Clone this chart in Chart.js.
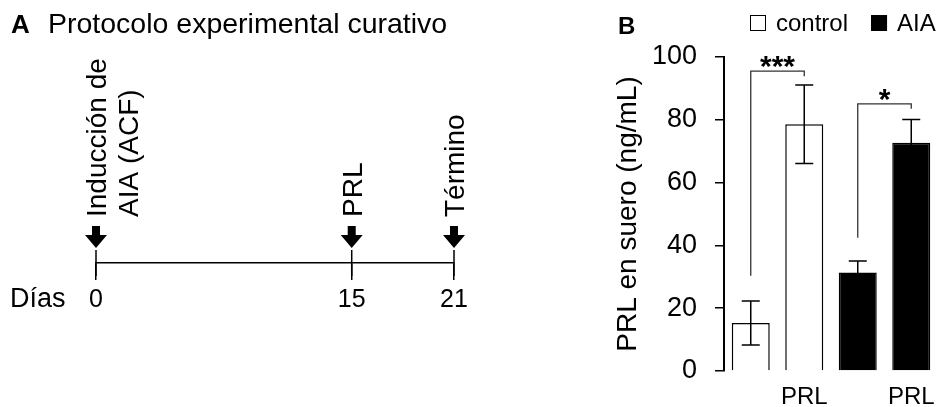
<!DOCTYPE html>
<html>
<head>
<meta charset="utf-8">
<script src="https://cdn.jsdelivr.net/npm/chart.js@4.4.1/dist/chart.umd.min.js"></script>
<style>
  html, body { margin: 0; padding: 0; background: #fff; }
  #wrap { position: relative; width: 938px; height: 407px; overflow: hidden; }
  canvas { position: absolute; top: 0; }
  #timeline { left: 0; }
  #prl { left: 600px; }
</style>
</head>
<body>
<div id="wrap">
  <canvas id="timeline" width="600" height="407"></canvas>
  <canvas id="prl" width="338" height="407"></canvas>
</div>
<script>
const FONT = "'Liberation Sans', Arial, Helvetica, sans-serif";

// panel A: timeline of the curative protocol
const days = [0, 15, 21];
const events = [["Inducción de", "AIA (ACF)"], ["PRL"], ["Término"]];
const dayLabel = "Días";
const titleA = "Protocolo experimental curativo";

// panel B: serum PRL (mean +/- error)
const groups = ["", "PRL", "", "PRL"];
const controlMean = [15.3, 78.6, null, null];
const controlErr = [7.0, 12.5, null, null];
const aiaMean = [null, null, 31.4, 72.7];
const aiaErr = [null, null, 3.6, 7.4];
const sigPairs = [[0, 1], [2, 3]];
const sigMarks = ["***", "*"];
const sigTop = [95.5, 85.1];
const sigFrom = [30.3, 42.4];

const timelineDecor = {
  id: "timelineDecor",
  afterDraw(chart) {
    const { ctx, scales: { x } } = chart;
    const base = x.top;
    ctx.save();
    ctx.fillStyle = "#000";
    days.forEach((d, i) => {
      const px = x.getPixelForValue(d);
      // arrow pointing down to the day
      ctx.fillRect(px - 4, base - 37, 8, 10);
      ctx.beginPath();
      ctx.moveTo(px - 11, base - 28);
      ctx.lineTo(px + 11, base - 28);
      ctx.lineTo(px, base - 15);
      ctx.closePath();
      ctx.fill();
      // vertical label
      ctx.save();
      ctx.translate(px, base - 46);
      ctx.rotate(-Math.PI / 2);
      ctx.font = "28px " + FONT;
      ctx.textAlign = "left";
      ctx.textBaseline = "alphabetic";
      events[i].forEach((line, j) => ctx.fillText(line, 0, 10 + j * 32));
      ctx.restore();
    });
    ctx.font = "27px " + FONT;
    ctx.textBaseline = "middle";
    ctx.fillText(dayLabel, 10, base + 37);
    ctx.textBaseline = "alphabetic";
    ctx.font = "bold 26px " + FONT;
    ctx.fillText("A", 11, 33);
    ctx.font = "28.5px " + FONT;
    ctx.fillText(titleA, 48, 33);
    ctx.restore();
  }
};

new Chart(document.getElementById("timeline"), {
  type: "scatter",
  data: {
    datasets: [{
      data: days.map(d => ({ x: d, y: 0 })),
      pointStyle: "line",
      rotation: 90,
      pointRadius: 13,
      pointHoverRadius: 13,
      pointBorderColor: "#000",
      pointBorderWidth: 1.5,
      clip: false
    }]
  },
  options: {
    responsive: false,
    animation: false,
    events: [],
    layout: { padding: { left: 96, right: 146, top: 60, bottom: 0 } },
    plugins: { legend: { display: false }, tooltip: { enabled: false } },
    scales: {
      x: {
        type: "linear",
        min: 0,
        max: 21,
        afterBuildTicks: s => { s.ticks = days.map(v => ({ value: v })); },
        afterFit: s => { s.height = 144; },
        grid: { drawOnChartArea: false, tickLength: 17, color: "#000", lineWidth: 1.5 },
        border: { color: "#000", width: 1.5 },
        ticks: { color: "#000", font: { family: FONT, size: 25 }, padding: 5, maxRotation: 0 }
      },
      y: { display: false, min: 0, max: 1 }
    }
  },
  plugins: [timelineDecor]
});

const prlDecor = {
  id: "prlDecor",
  afterDatasetsDraw(chart) {
    const { ctx, scales: { y } } = chart;
    const means = [controlMean, aiaMean];
    const errs = [controlErr, aiaErr];
    const barX = [];
    ctx.save();
    ctx.strokeStyle = "#000";
    ctx.lineWidth = 1.5;
    chart.data.datasets.forEach((ds, i) => {
      chart.getDatasetMeta(i).data.forEach((bar, k) => {
        if (means[i][k] == null) return;
        barX[k] = bar.x;
        const top = y.getPixelForValue(means[i][k] + errs[i][k]);
        const bot = y.getPixelForValue(means[i][k] - errs[i][k]);
        ctx.beginPath();
        ctx.moveTo(bar.x, top); ctx.lineTo(bar.x, bot);
        ctx.moveTo(bar.x - 9, top); ctx.lineTo(bar.x + 9, top);
        ctx.moveTo(bar.x - 9, bot); ctx.lineTo(bar.x + 9, bot);
        ctx.stroke();
      });
    });
    // significance brackets
    ctx.strokeStyle = "#333";
    ctx.lineWidth = 1.3;
    ctx.fillStyle = "#000";
    ctx.font = "bold 30px " + FONT;
    ctx.textAlign = "center";
    ctx.textBaseline = "alphabetic";
    sigPairs.forEach(([a, b], i) => {
      const xl = barX[a], xr = barX[b];
      const yt = y.getPixelForValue(sigTop[i]);
      ctx.beginPath();
      ctx.moveTo(xl, y.getPixelForValue(sigFrom[i]));
      ctx.lineTo(xl, yt);
      ctx.lineTo(xr, yt);
      ctx.lineTo(xr, yt + 5);
      ctx.stroke();
      const m = ctx.measureText(sigMarks[i]);
      ctx.fillText(sigMarks[i], (xl + xr) / 2, yt - 3 - m.actualBoundingBoxDescent);
    });
    ctx.restore();
  },
  afterDraw(chart) {
    const { ctx } = chart;
    ctx.save();
    ctx.fillStyle = "#000";
    ctx.textBaseline = "alphabetic";
    ctx.font = "bold 24px " + FONT;
    ctx.fillText("B", 18, 34);
    // legend
    ctx.font = "24px " + FONT;
    let lx = 150;
    chart.data.datasets.forEach(ds => {
      ctx.fillStyle = ds.backgroundColor;
      ctx.fillRect(lx, 15, 16, 16);
      ctx.strokeStyle = "#000";
      ctx.lineWidth = 1;
      ctx.strokeRect(lx + 0.5, 15.5, 15, 15);
      ctx.fillStyle = "#000";
      ctx.fillText(ds.label, lx + 26, 31);
      lx += 26 + ctx.measureText(ds.label).width + 23;
    });
    ctx.restore();
  }
};

new Chart(document.getElementById("prl"), {
  type: "bar",
  data: {
    labels: groups,
    datasets: [
      { label: "control", data: controlMean, backgroundColor: "#fff", borderColor: "#000", borderWidth: 1.5, grouped: false },
      { label: "AIA", data: aiaMean, backgroundColor: "#000", borderColor: "#000", borderWidth: 1.5, grouped: false }
    ]
  },
  options: {
    responsive: false,
    animation: false,
    events: [],
    layout: { padding: { left: 0, right: 0, top: 57, bottom: 0 } },
    datasets: { bar: { categoryPercentage: 1, barPercentage: 0.71 } },
    plugins: { legend: { display: false }, tooltip: { enabled: false } },
    scales: {
      x: {
        grid: { display: false },
        border: { display: false },
        ticks: { color: "#000", font: { family: FONT, size: 24 }, padding: 4, maxRotation: 0 },
        afterFit: s => { s.height = 36; s.paddingLeft = 0; s.paddingRight = 0; }
      },
      y: {
        min: 0,
        max: 100,
        ticks: { stepSize: 20, color: "#000", font: { family: FONT, size: 27 }, padding: 18 },
        grid: { drawOnChartArea: false, tickLength: 9, color: "#000", lineWidth: 1.5 },
        border: { color: "#000", width: 2 },
        title: { display: true, text: "PRL en suero (ng/mL)", color: "#000", font: { family: FONT, size: 28 }, padding: { top: 11, bottom: 0 } },
        afterFit: s => { s.width = 124; }
      }
    }
  },
  plugins: [prlDecor]
});
</script>
</body>
</html>
